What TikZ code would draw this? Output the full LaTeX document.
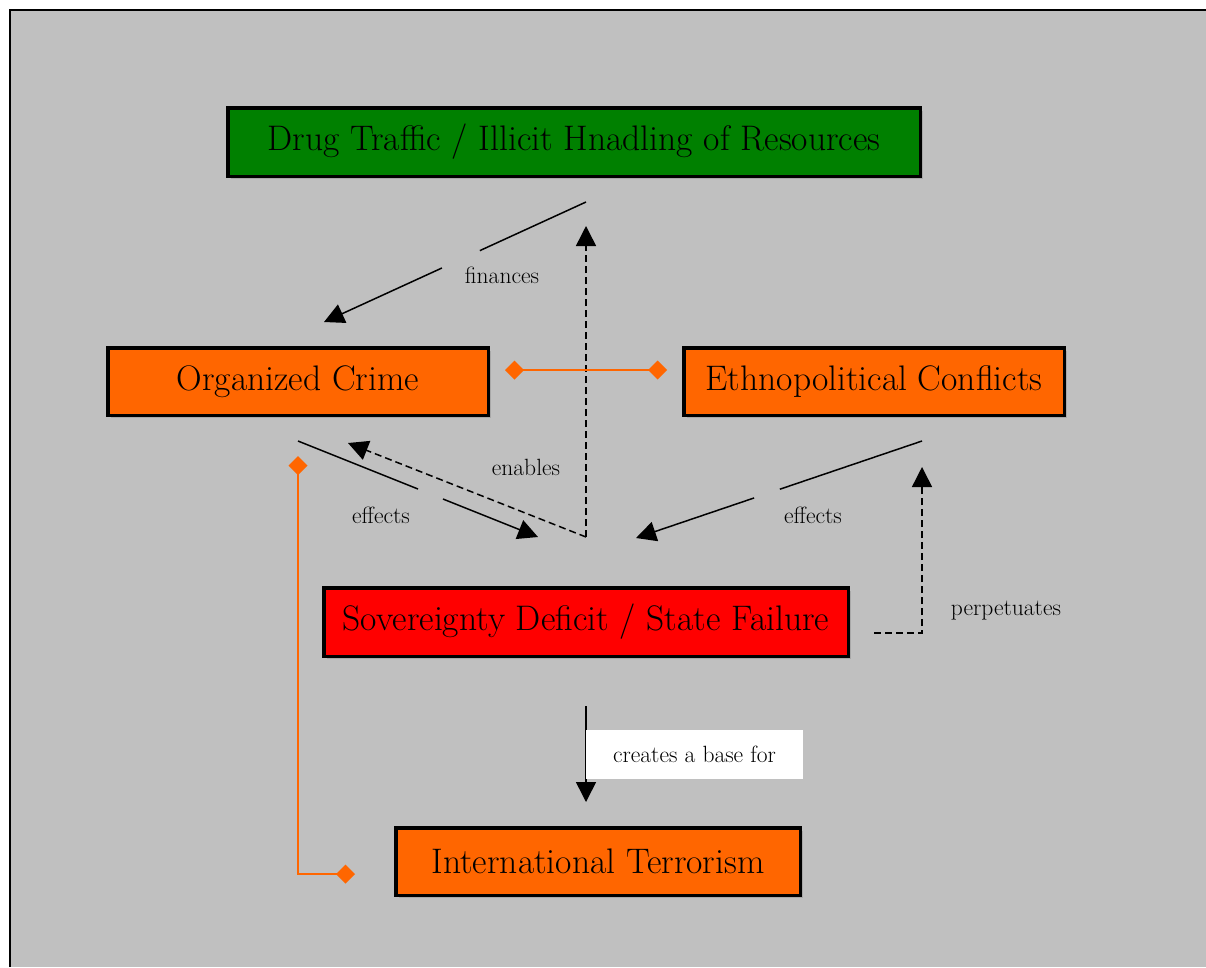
\documentclass[tikz,border=0pt]{standalone}
\usetikzlibrary{arrows.meta,calc,shadows}
\definecolor{bg}{RGB}{192,192,192}
\definecolor{dgreen}{RGB}{0,128,0}
\definecolor{orng}{RGB}{255,102,0}
\definecolor{shd}{RGB}{168,168,168}
\begin{document}
\begin{tikzpicture}[x=1pt,y=-1pt,
  box/.style={draw=black, line width=3.5pt, inner sep=0pt, align=center,
    font=\fontsize{35.5}{40}\selectfont,
    drop shadow={shadow xshift=3pt, shadow yshift=-3pt, fill=shd, opacity=1}},
  lbl/.style={inner sep=0pt, font=\fontsize{23.5}{28}\selectfont},
  conn/.style={line width=1.5pt, draw=black},
  dconn/.style={conn, dash pattern=on 7pt off 4pt},
  tip/.style={-{Triangle[length=20pt,width=20pt]}},
  olink/.style={draw=orng, line width=2pt, {Diamond[length=19pt,width=19pt]}-{Diamond[length=19pt,width=19pt]}}
]
\useasboundingbox (0,0) rectangle (1206,967);
\fill[bg] (9,9) rectangle (1206,967);
\draw[line width=2pt] (9.5,967) -- (9.5,9.5) -- (1206,9.5);

% boxes
\node[box, fill=dgreen, minimum width=692.5pt, minimum height=68.5pt] (drug) at (574,142) {Drug Traffic / Illicit Hnadling of Resources};
\node[box, fill=orng, minimum width=380.5pt, minimum height=67.5pt] (oc) at (298,381.5) {Organized Crime};
\node[box, fill=orng, minimum width=380.5pt, minimum height=67.5pt] (eth) at (874,381.5) {Ethnopolitical Conflicts};
\node[box, fill=red, minimum width=524.5pt, minimum height=68.5pt] (sov) at (586,622) {Sovereignty Deficit / State Failure};
\node[box, fill=orng, minimum width=404.5pt, minimum height=67.5pt] (ter) at (598,861.5) {International Terrorism};

% finances
\coordinate (finS) at (586,202);
\coordinate (finT) at (324,322);
\draw[conn] (finS) -- ($(finS)!0.405!(finT)$);
\draw[conn, tip] ($(finS)!0.55!(finT)$) -- (finT);
\node[lbl] (finL) at (502,275) {finances};

% enables (dashed)
\coordinate (enC) at (586,537);
\coordinate (enUp) at (586,226);
\coordinate (enOc) at (348,443);
\draw[dconn, tip] (enC) -- (enUp);
\draw[dconn, tip] (enC) -- (enOc);
\node[lbl] (enL) at (526,467) {enables};

% effects left
\coordinate (efLS) at (298,441);
\coordinate (efLT) at (538,537);
\draw[conn] (efLS) -- ($(efLS)!0.5!(efLT)$);
\draw[conn, tip] ($(efLS)!0.604!(efLT)$) -- (efLT);
\node[lbl] (efLL) at (381,515) {effects};

% effects right
\coordinate (efRS) at (922,441);
\coordinate (efRT) at (636,538);
\draw[conn] (efRS) -- ($(efRS)!0.497!(efRT)$);
\draw[conn, tip] ($(efRS)!0.587!(efRT)$) -- (efRT);
\node[lbl] (efRL) at (813,515) {effects};

% perpetuates
\coordinate (peS) at (874,633);
\coordinate (peC) at (922,633);
\coordinate (peT) at (922,467);
\draw[dconn, tip] (peS) -- (peC) -- (peT);
\node[lbl] (peL) at (1006,611) {perpetuates};

% creates a base for
\coordinate (crS) at (586,706);
\coordinate (crT) at (586,802);
\draw[conn, tip] (crS) -- (crT);
\node[lbl, fill=white, minimum width=217pt, minimum height=49pt] (crL) at (694.5,754.5) {creates a base for};

% orange links
\coordinate (o1) at (505,370);
\coordinate (o2) at (667,370);
\draw[olink] (o1) -- (o2);
\coordinate (o3) at (298,456);
\coordinate (o4) at (298,874);
\coordinate (o5) at (355,874);
\draw[olink] (o3) -- (o4) -- (o5);
\end{tikzpicture}
\end{document}
